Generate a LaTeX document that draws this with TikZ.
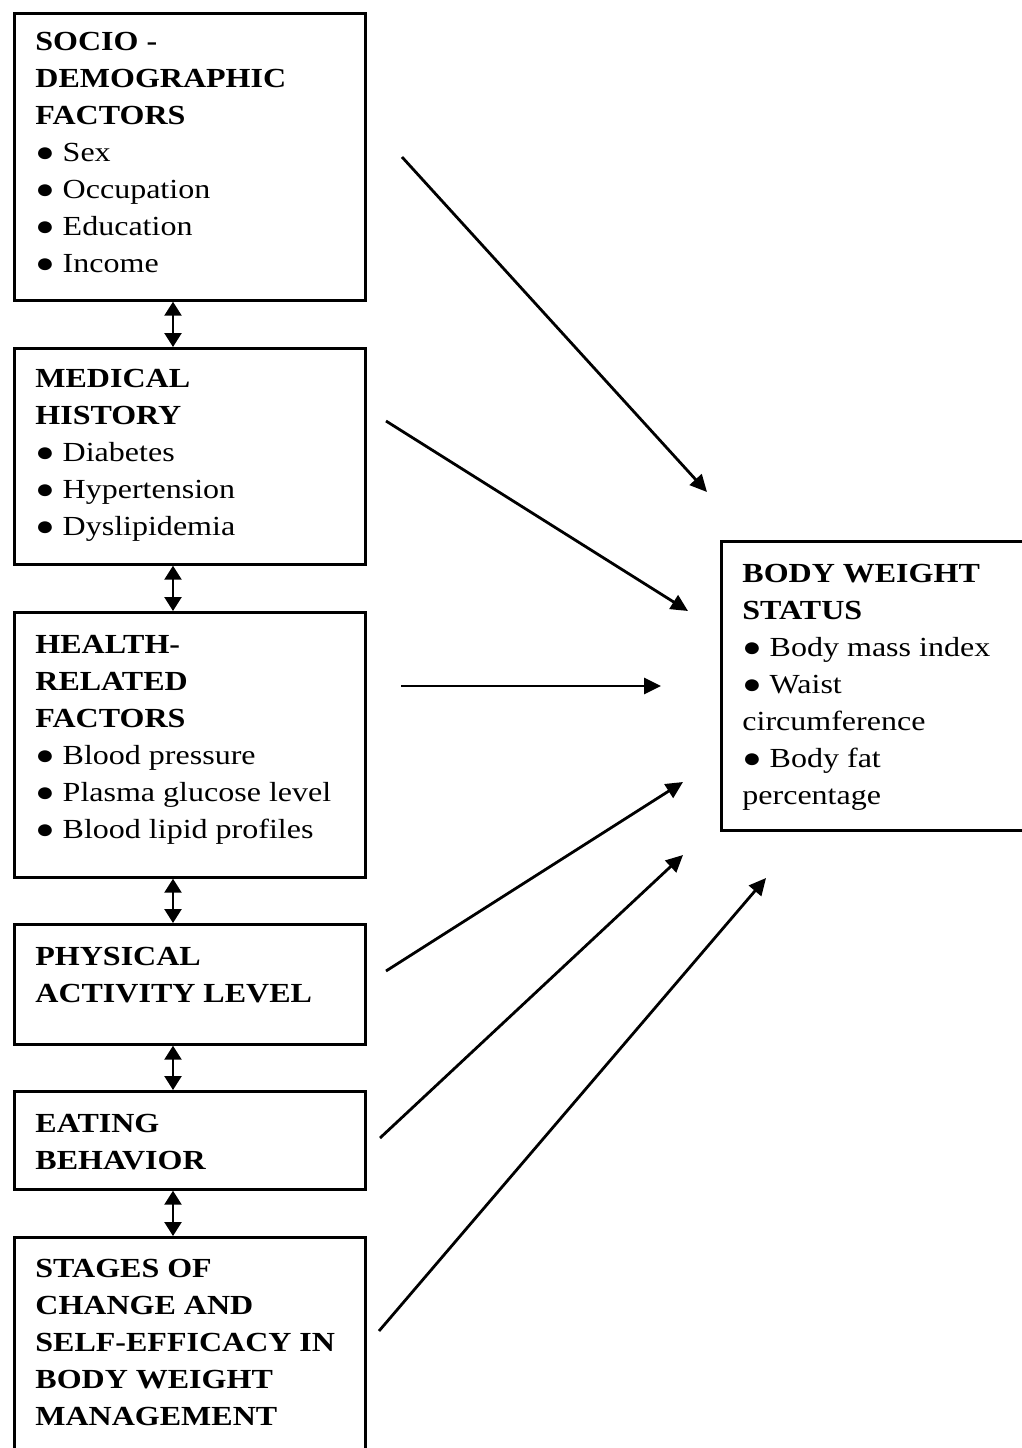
\documentclass[tikz,border=0pt]{standalone}
\usepackage{fontspec}
\setmainfont{Liberation Serif}[FakeStretch=1.16]
\usetikzlibrary{arrows.meta}

\tikzset{
    factor/.style={draw, line width=1.35pt, inner sep=0pt, anchor=north west, minimum width=175.5pt},
    factortext/.style={anchor=north west, inner sep=0pt, align=left, font=\fontsize{13.8}{18.5}\selectfont},
    link/.style={-{Triangle[length=8.5pt,width=8pt]}, line width=1.4pt},
    twoway/.style={{Triangle[length=7pt,width=8.5pt]}-{Triangle[length=7pt,width=8.5pt]}, line width=1.2pt},
}
\newcommand{\bul}{●\ }

\begin{document}
\begin{tikzpicture}[x=0.5pt, y=-0.5pt]
\useasboundingbox (0,0) rectangle (1022,1448);

% factor boxes on the left
\node[factor, minimum height=143.5pt] (socio) at (13,12) {};
\node[factor, minimum height=108pt] (history) at (13,347) {};
\node[factor, minimum height=132.5pt] (health) at (13,611) {};
\node[factor, minimum height=60pt] (activity) at (13,923) {};
\node[factor, minimum height=49pt] (eating) at (13,1090) {};
\node[factor, minimum height=115pt] (stages) at (13,1236) {};
% outcome box
\node[factor, minimum width=160pt, minimum height=144.5pt] (status) at (720,540) {};

\node[factortext] (socio-t) at (35,32)
    {\textbf{SOCIO -}\\ \textbf{DEMOGRAPHIC}\\ \textbf{FACTORS}\\ \bul Sex\\ \bul Occupation\\ \bul Education\\ \bul Income};
\node[factortext] (history-t) at (35,369)
    {\textbf{MEDICAL}\\ \textbf{HISTORY}\\ \bul Diabetes\\ \bul Hypertension\\ \bul Dyslipidemia};
\node[factortext] (health-t) at (35,635)
    {\textbf{HEALTH-}\\ \textbf{RELATED}\\ \textbf{FACTORS}\\ \bul Blood pressure\\ \bul Plasma glucose level\\ \bul Blood lipid profiles};
\node[factortext] (activity-t) at (35,947)
    {\textbf{PHYSICAL}\\ \textbf{ACTIVITY LEVEL}};
\node[factortext] (eating-t) at (35,1114)
    {\textbf{EATING}\\ \textbf{BEHAVIOR}};
\node[factortext] (stages-t) at (35,1259)
    {\textbf{STAGES OF}\\ \textbf{CHANGE AND}\\ \textbf{SELF-EFFICACY IN}\\ \textbf{BODY WEIGHT}\\ \textbf{MANAGEMENT}};
\node[factortext] (status-t) at (742,564)
    {\textbf{BODY WEIGHT}\\ \textbf{STATUS}\\ \bul Body mass index\\ \bul Waist\\ circumference\\ \bul Body fat\\ percentage};

% two-way links between the factors
\coordinate (col) at (173,0);
\foreach \a/\b in {socio/history, history/health, health/activity, activity/eating, eating/stages}
{
    \draw[twoway] (\a.south -| col) -- (\b.north -| col);
}

% links into body weight status
\coordinate (from1) at (402,157);
\coordinate (to1) at (707,492);
\coordinate (from2) at (386,421);
\coordinate (to2) at (688,611);
\coordinate (from3) at (401,686);
\coordinate (to3) at (661,686);
\coordinate (from4) at (386,971);
\coordinate (to4) at (683,782);
\coordinate (from5) at (380,1138);
\coordinate (to5) at (683,855);
\coordinate (from6) at (379,1331);
\coordinate (to6) at (766,878);
\foreach \i in {1,...,6}
{
    \draw[link] (from\i) -- (to\i);
}

\end{tikzpicture}
\end{document}
